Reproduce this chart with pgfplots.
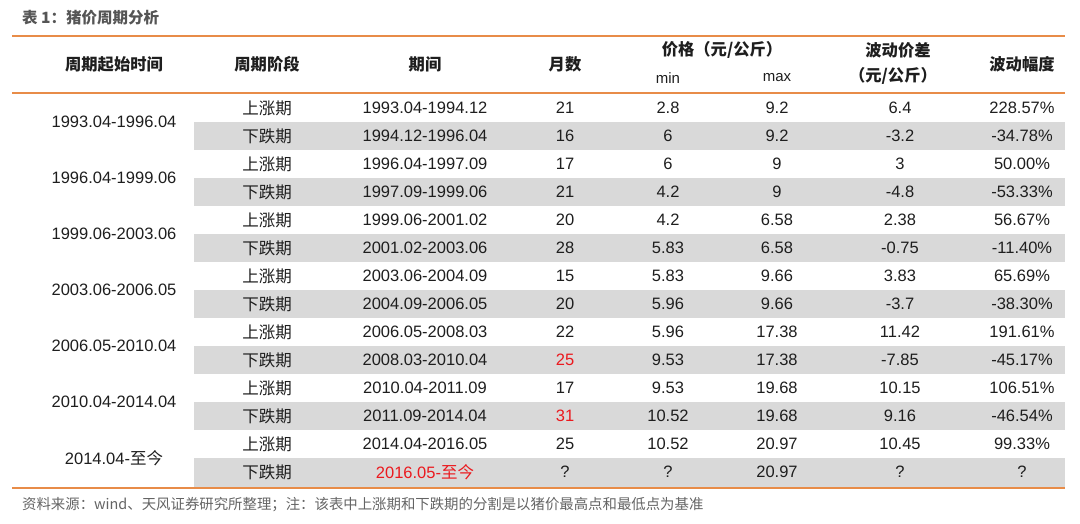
\documentclass[border=0pt]{standalone}
\usepackage{pgfplots}
\pgfplotsset{compat=1.18}
\usepackage{fontspec}
\setmainfont{Liberation Sans}
\newfontfamily\cjk{Noto Sans CJK SC}
\definecolor{orangeline}{RGB}{232,140,72}
\definecolor{band}{RGB}{217,217,217}
\definecolor{txt}{RGB}{30,30,30}
\definecolor{redtxt}{RGB}{235,25,30}
\definecolor{note}{RGB}{100,100,100}

% one table row: y, phase, period, months, min, max, diff, amplitude
\newcommand\rowdata[8]{%
  \node[cell] at (axis cs:267,#1) {\cjk #2};
  \node[cell] at (axis cs:425,#1) {#3};
  \node[cell] at (axis cs:565,#1) {#4};
  \node[cell] at (axis cs:668,#1) {#5};
  \node[cell] at (axis cs:777,#1) {#6};
  \node[cell] at (axis cs:900,#1) {#7};
  \node[cell] at (axis cs:1022,#1) {#8};
}
\newcommand\band[1]{%
  \fill[band] (axis cs:194,#1-13.6) rectangle (axis cs:1065,#1+13.6);
}

\begin{document}
\begin{tikzpicture}[
  cell/.style={font=\fontsize{16.5}{19}\selectfont, text=txt, inner sep=0pt, anchor=center},
  head/.style={font=\fontsize{16.3}{19}\selectfont\cjk\bfseries, text=txt, inner sep=0pt, anchor=center},
]
\begin{axis}[
  width=1080pt, height=524pt, scale only axis,
  xmin=0, xmax=1080, ymin=0, ymax=524, y dir=reverse,
  hide axis, clip=false,
]
% keep the full page size
\path (axis cs:0,0) rectangle (axis cs:1080,524);

% gray bands for the falling phases
\band{136}\band{192}\band{248}\band{304}\band{360}\band{416}
\fill[band] (axis cs:194,458.4) rectangle (axis cs:1065,487);

% rules
\draw[orangeline, line width=2pt] (axis cs:12,36) -- (axis cs:1065,36);
\draw[orangeline, line width=2pt] (axis cs:12,93) -- (axis cs:1065,93);
\draw[orangeline, line width=2pt] (axis cs:12,487.5) -- (axis cs:1065,487.5);

% title and note
\node[anchor=west, inner sep=0pt, text=note!85!black, font=\fontsize{15.5}{18}\selectfont\cjk\bfseries] at (axis cs:22,18) {表 1：猪价周期分析};
\node[anchor=west, inner sep=0pt, text=note, font=\fontsize{14.4}{17}\selectfont\cjk] at (axis cs:22,505) {资料来源：wind、天风证券研究所整理；注：该表中上涨期和下跌期的分割是以猪价最高点和最低点为基准};

% header
\node[head] at (axis cs:114,64) {周期起始时间};
\node[head] at (axis cs:267,64) {周期阶段};
\node[head] at (axis cs:425,64) {期间};
\node[head] at (axis cs:565,64) {月数};
\node[head] at (axis cs:722,50) {价格（元/公斤）};
\node[cell, font=\fontsize{15}{18}\selectfont] at (axis cs:668,78) {min};
\node[cell, font=\fontsize{15}{18}\selectfont] at (axis cs:777,78) {max};
\node[head] at (axis cs:898,50) {波动价差};
\node[head] at (axis cs:893,76) {（元/公斤）};
\node[head] at (axis cs:1022,64) {波动幅度};

% cycle start column
\node[cell] at (axis cs:114,122) {1993.04-1996.04};
\node[cell] at (axis cs:114,178) {1996.04-1999.06};
\node[cell] at (axis cs:114,234) {1999.06-2003.06};
\node[cell] at (axis cs:114,290) {2003.06-2006.05};
\node[cell] at (axis cs:114,346) {2006.05-2010.04};
\node[cell] at (axis cs:114,402) {2010.04-2014.04};
\node[cell] at (axis cs:114,458) {2014.04-{\cjk 至今}};

\rowdata{108}{上涨期}{1993.04-1994.12}{21}{2.8}{9.2}{6.4}{228.57\%}
\rowdata{136}{下跌期}{1994.12-1996.04}{16}{6}{9.2}{-3.2}{-34.78\%}
\rowdata{164}{上涨期}{1996.04-1997.09}{17}{6}{9}{3}{50.00\%}
\rowdata{192}{下跌期}{1997.09-1999.06}{21}{4.2}{9}{-4.8}{-53.33\%}
\rowdata{220}{上涨期}{1999.06-2001.02}{20}{4.2}{6.58}{2.38}{56.67\%}
\rowdata{248}{下跌期}{2001.02-2003.06}{28}{5.83}{6.58}{-0.75}{-11.40\%}
\rowdata{276}{上涨期}{2003.06-2004.09}{15}{5.83}{9.66}{3.83}{65.69\%}
\rowdata{304}{下跌期}{2004.09-2006.05}{20}{5.96}{9.66}{-3.7}{-38.30\%}
\rowdata{332}{上涨期}{2006.05-2008.03}{22}{5.96}{17.38}{11.42}{191.61\%}
\rowdata{360}{下跌期}{2008.03-2010.04}{\textcolor{redtxt}{25}}{9.53}{17.38}{-7.85}{-45.17\%}
\rowdata{388}{上涨期}{2010.04-2011.09}{17}{9.53}{19.68}{10.15}{106.51\%}
\rowdata{416}{下跌期}{2011.09-2014.04}{\textcolor{redtxt}{31}}{10.52}{19.68}{9.16}{-46.54\%}
\rowdata{444}{上涨期}{2014.04-2016.05}{25}{10.52}{20.97}{10.45}{99.33\%}
\rowdata{472}{下跌期}{\textcolor{redtxt}{2016.05-{\cjk 至今}}}{?}{?}{20.97}{?}{?}
\end{axis}
\end{tikzpicture}
\end{document}
